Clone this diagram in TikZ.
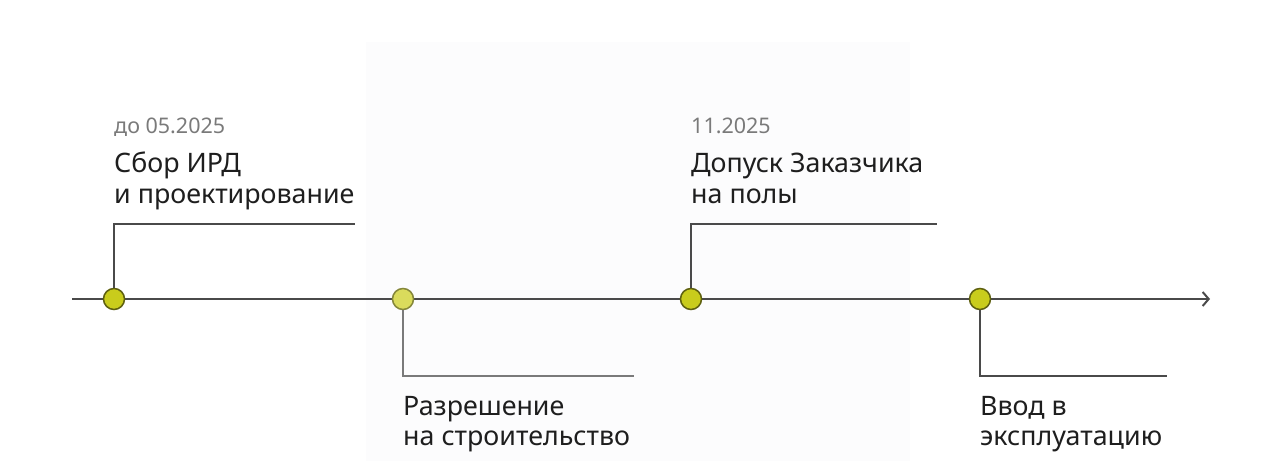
\documentclass[tikz,border=0pt]{standalone}
\usepackage{fontspec}
\setmainfont{Noto Sans}
\usetikzlibrary{arrows.meta}
\definecolor{linegray}{HTML}{4A4A4A}
\definecolor{lightline}{HTML}{7A7A7A}
\definecolor{dotfill}{HTML}{C9CC1C}
\definecolor{dotedge}{HTML}{5E6010}
\definecolor{dotfillb}{HTML}{DADB5C}
\definecolor{dotedgeb}{HTML}{85873A}
\definecolor{dategray}{HTML}{7A7A7A}
\definecolor{textdark}{HTML}{1E1E1E}
\definecolor{panel}{HTML}{FCFCFD}
\begin{document}
\begin{tikzpicture}[x=1pt,y=-1pt,
  dot/.style={circle,draw=dotedge,fill=dotfill,line width=1.5pt,minimum size=21pt,inner sep=0pt},
  dotb/.style={circle,draw=dotedgeb,fill=dotfillb,line width=1.5pt,minimum size=21pt,inner sep=0pt},
  conn/.style={draw=linegray,line width=2pt},
  connb/.style={draw=lightline,line width=2pt},
  datelbl/.style={anchor=base west,inner sep=0pt,text=dategray,font=\fontsize{21.5}{25}\selectfont},
  titlelbl/.style={anchor=base west,inner sep=0pt,text=textdark,font=\fontsize{26.8}{31}\selectfont}]
\useasboundingbox (0,0) rectangle (1280,461);
\fill[white] (0,0) rectangle (1280,461);
\fill[panel] (366,42) rectangle (910,461);
% timeline
\coordinate (s) at (72,299);
\coordinate (t) at (1210,299);
\draw[conn,-{Straight Barb[length=6pt,width=14pt,line width=2pt]}] (s) -- (t);
% corners and ends
\coordinate (c1) at (114,224); \coordinate (e1) at (355,224);
\coordinate (c2) at (403,376); \coordinate (e2) at (634,376);
\coordinate (c3) at (691,224); \coordinate (e3) at (937,224);
\coordinate (c4) at (980,376); \coordinate (e4) at (1167,376);
% dots
\node[dot]  (d1) at (114,299) {};
\node[dotb] (d2) at (403,299) {};
\node[dot]  (d3) at (691,299) {};
\node[dot]  (d4) at (980,299) {};
% connectors
\draw[conn] (d1.north) -- (c1) -- (e1);
\draw[connb] (d2.south) -- (c2) -- (e2);
\draw[conn] (d3.north) -- (c3) -- (e3);
\draw[conn] (d4.south) -- (c4) -- (e4);
% labels
\node[datelbl] (date1) at (114,133) {до 05.2025};
\node[titlelbl] (t1a) at (114,172) {Сбор ИРД};
\node[titlelbl] (t1b) at (114,203) {и проектирование};
\node[titlelbl] (t2a) at (403,415) {Разрешение};
\node[titlelbl] (t2b) at (403,445) {на строительство};
\node[datelbl] (date3) at (691,133) {11.2025};
\node[titlelbl] (t3a) at (691,172) {Допуск Заказчика};
\node[titlelbl] (t3b) at (691,203) {на полы};
\node[titlelbl] (t4a) at (980,415) {Ввод в};
\node[titlelbl] (t4b) at (980,445) {эксплуатацию};
\end{tikzpicture}
\end{document}
